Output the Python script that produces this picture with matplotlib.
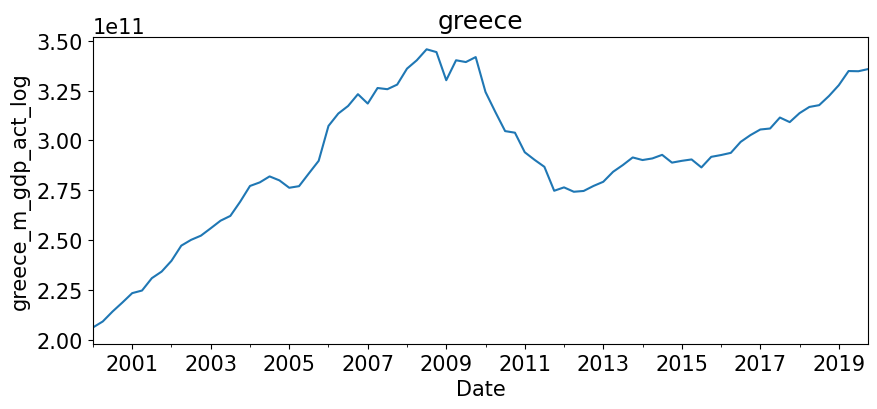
import matplotlib
matplotlib.use("Agg")
import matplotlib.pyplot as plt
import numpy as np
from matplotlib.ticker import FixedLocator, FormatStrFormatter

# quarterly series, 2000Q1 .. 2019Q4 (units of 1e11)
start_year = 2000
gdp_e11 = [
    2.063, 2.093, 2.143, 2.188, 2.235, 2.248, 2.310, 2.343,
    2.397, 2.473, 2.502, 2.523, 2.560, 2.598, 2.622, 2.693,
    2.772, 2.790, 2.820, 2.800, 2.763, 2.771, 2.835, 2.898,
    3.073, 3.135, 3.173, 3.232, 3.185, 3.263, 3.257, 3.280,
    3.360, 3.402, 3.457, 3.443, 3.302, 3.402, 3.393, 3.418,
    3.243, 3.143, 3.047, 3.039, 2.941, 2.903, 2.868, 2.748,
    2.765, 2.743, 2.747, 2.772, 2.793, 2.843, 2.877, 2.915,
    2.902, 2.910, 2.928, 2.889, 2.898, 2.905, 2.865, 2.918,
    2.927, 2.938, 2.993, 3.027, 3.055, 3.060, 3.115, 3.092,
    3.137, 3.168, 3.177, 3.223, 3.277, 3.348, 3.347, 3.358,
]
major_years = list(range(2001, 2020, 2))
minor_years = list(range(2000, 2020, 2))

values = np.array(gdp_e11) * 1e11
dates = start_year + np.arange(len(values)) / 4.0

plt.rcParams["font.size"] = 15

fig, ax = plt.subplots(figsize=(8.77, 4.10), dpi=100)
fig.subplots_adjust(left=0.106, right=0.990, top=0.908, bottom=0.159)

ax.plot(dates, values, color="#1f77b4", linewidth=1.5)

ax.set_xlim(dates[0], dates[-1])
ax.set_ylim(1.981e11, 3.52e11)
ax.xaxis.set_major_locator(FixedLocator(major_years))
ax.xaxis.set_minor_locator(FixedLocator(minor_years))
ax.xaxis.set_major_formatter(FormatStrFormatter("%d"))
ax.set_yticks(np.arange(2.0, 3.51, 0.25) * 1e11)

ax.set_title("greece", fontsize=18)
ax.set_xlabel("Date")
ax.set_ylabel("greece_m_gdp_act_log")

fig.savefig("out.png", dpi=100)
